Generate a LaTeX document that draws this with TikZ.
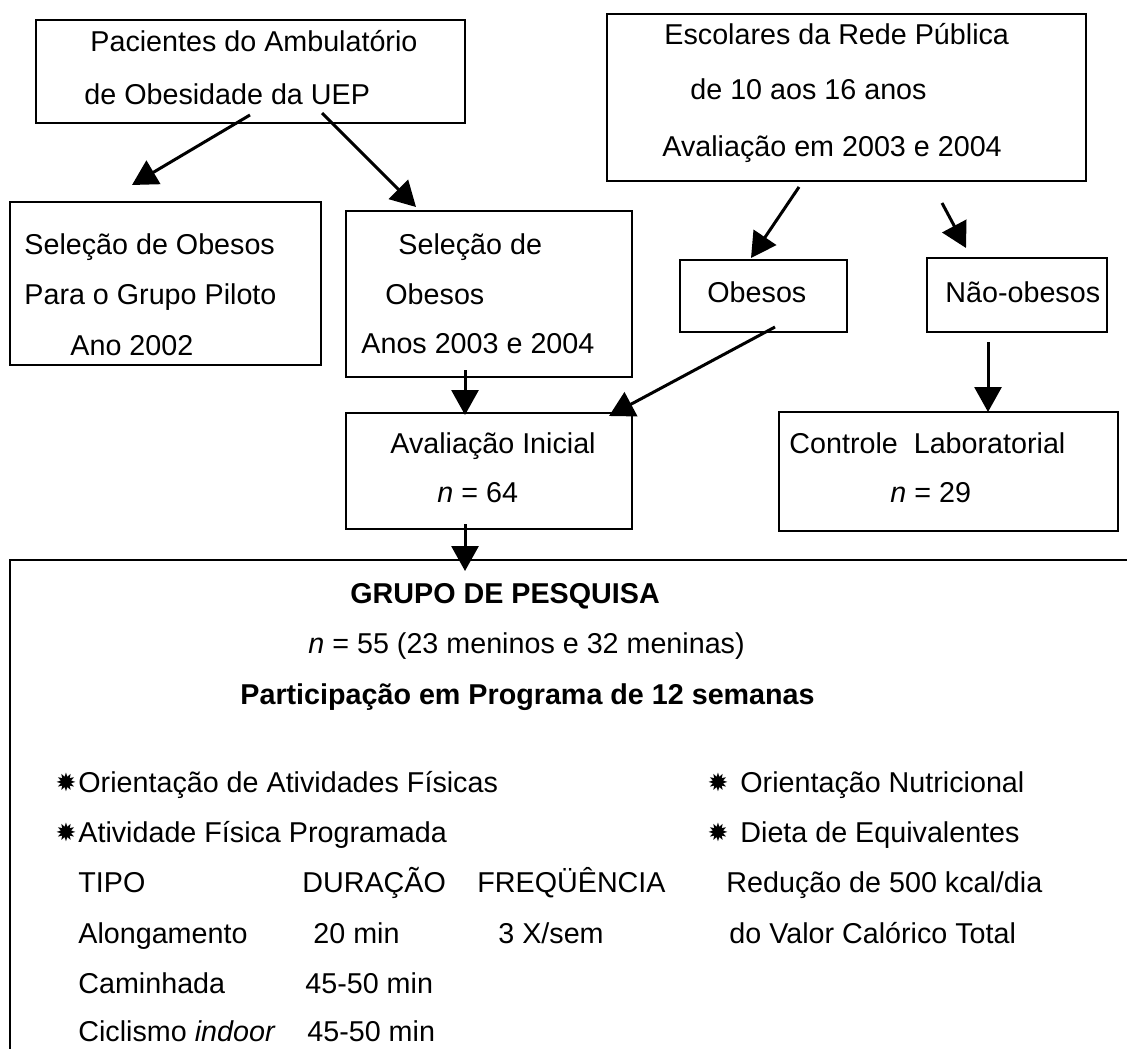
\documentclass[tikz,border=0pt]{standalone}
\usepackage{fontspec}
\setmainfont{Liberation Sans}
\newfontfamily\starfont{DejaVu Sans}
\usetikzlibrary{arrows.meta,fit}
\begin{document}
\begin{tikzpicture}[x=0.5pt,y=-0.5pt,
  box/.style={draw, line width=0.8pt, inner sep=0pt},
  txt/.style={anchor=base west, inner sep=0pt, font=\fontsize{14.35}{17}\selectfont},
  btxt/.style={anchor=base west, inner sep=0pt, font=\fontsize{14.35}{17}\selectfont\bfseries},
  arr/.style={line width=1.5pt, -{Triangle[length=12.5pt,width=13.5pt]}},
  starsym/.style={anchor=center, inner sep=0pt, font=\starfont\fontsize{12.5}{14}\selectfont}]
\useasboundingbox (0,0) rectangle (1127,1048);

% boxes
\node[box, fit={(36,20) (465,123)}] (b1) {};
\node[box, fit={(607,14) (1086,181)}] (b2) {};
\node[box, fit={(10,202) (321,365)}] (b3) {};
\node[box, fit={(346,211) (632,377)}] (b4) {};
\node[box, fit={(680,260) (847,332)}] (b5) {};
\node[box, fit={(927,258) (1107,332)}] (b6) {};
\node[box, fit={(346,413) (632,529)}] (b7) {};
\node[box, fit={(779,412) (1118,531)}] (b8) {};
\begin{scope}
\clip (0,0) rectangle (1127,1048);
\node[box, fit={(10,560) (1160,1090)}] (b9) {};
\end{scope}

% texts in upper boxes
\node[txt] (t11) at (90,52) {Pacientes do Ambulatório};
\node[txt] (t12) at (84,105) {de Obesidade da UEP};
\node[txt] (t21) at (664,45) {Escolares da Rede Pública};
\node[txt] (t22) at (690,100) {de 10 aos 16 anos};
\node[txt] (t23) at (662,156) {Avaliação em 2003 e 2004};
\node[txt] (t31) at (24,254) {Seleção de Obesos};
\node[txt] (t32) at (24,304) {Para o Grupo Piloto};
\node[txt] (t33) at (70,355) {Ano 2002};
\node[txt] (t41) at (398,254) {Seleção de};
\node[txt] (t42) at (385,304) {Obesos};
\node[txt] (t43) at (361,353) {Anos 2003 e 2004};
\node[txt] (t51) at (707,302) {Obesos};
\node[txt] (t61) at (945,302) {Não-obesos};
\node[txt] (t71) at (390,453) {Avaliação Inicial};
\node[txt] (t72) at (437,502) {\textit{n} = 64};
\node[txt] (t81) at (789,453) {Controle\ \ Laboratorial};
\node[txt] (t82) at (890,502) {\textit{n} = 29};

% big box texts
\node[btxt] (g1) at (350,603) {GRUPO DE PESQUISA};
\node[txt] (g2) at (308,653) {\textit{n} = 55 (23 meninos e 32 meninas)};
\node[btxt] (g3) at (240,704) {Participação em Programa de 12 semanas};

\node[starsym] (s1) at (66,782) {✹};
\node[txt] (l1) at (78,792) {Orientação de Atividades Físicas};
\node[starsym] (s2) at (66,832) {✹};
\node[txt] (l2) at (78,842) {Atividade Física Programada};
\node[txt] (l3) at (78,892) {TIPO};
\node[txt] (l3b) at (302,892) {DURAÇÃO};
\node[txt] (l3c) at (477,892) {FREQÜÊNCIA};
\node[txt] (l4) at (78,943) {Alongamento};
\node[txt] (l4b) at (313,943) {20 min};
\node[txt] (l4c) at (498,943) {3 X/sem};
\node[txt] (l5) at (78,993) {Caminhada};
\node[txt] (l5b) at (305,993) {45-50 min};
\node[txt] (l6) at (78,1041) {Ciclismo \textit{indoor}};
\node[txt] (l6b) at (307,1041) {45-50 min};

\node[starsym] (s3) at (718,782) {✹};
\node[txt] (r1) at (740,792) {Orientação Nutricional};
\node[starsym] (s4) at (718,832) {✹};
\node[txt] (r2) at (740,842) {Dieta de Equivalentes};
\node[txt] (r3) at (726,892) {Redução de 500 kcal/dia};
\node[txt] (r4) at (729,943) {do Valor Calórico Total};

% arrow end points
\coordinate (a1s) at (250,115);
\coordinate (a1e) at (132,185);
\coordinate (a2s) at (322,113);
\coordinate (a2e) at (416,207);
\coordinate (a3s) at (799,187);
\coordinate (a3e) at (751,258);
\coordinate (a4s) at (942,203);
\coordinate (a4e) at (966,248);
\coordinate (a5s) at (465,370);
\coordinate (a5e) at (465,415);
\coordinate (a6s) at (775,327);
\coordinate (a6e) at (609,416);
\coordinate (a7s) at (988,342);
\coordinate (a7e) at (988,412);
\coordinate (a8s) at (465,524);
\coordinate (a8e) at (465,571);

\draw[arr] (a1s) -- (a1e);
\draw[arr] (a2s) -- (a2e);
\draw[arr] (a3s) -- (a3e);
\draw[arr] (a4s) -- (a4e);
\draw[arr] (a5s) -- (a5e);
\draw[arr] (a6s) -- (a6e);
\draw[arr] (a7s) -- (a7e);
\draw[arr] (a8s) -- (a8e);
\end{tikzpicture}
\end{document}
